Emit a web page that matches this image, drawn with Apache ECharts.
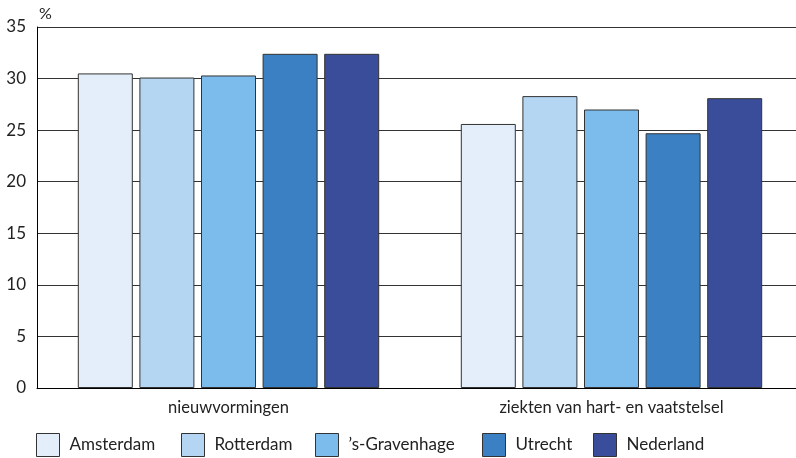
<!DOCTYPE html>
<html><head><meta charset="utf-8">
<script src="https://cdn.jsdelivr.net/npm/echarts@6/dist/echarts.min.js"></script>
<style>html,body{margin:0;padding:0;background:#fff}#c{width:796px;height:458px}</style>
</head><body><div id="c"></div>
<script>
const categories = ['nieuwvormingen', 'ziekten van hart- en vaatstelsel'];
const seriesNames = ['Amsterdam', 'Rotterdam', '\u2019s-Gravenhage', 'Utrecht', 'Nederland'];
const amsterdam = [30.5, 25.6];
const rotterdam = [30.1, 28.3];
const gravenhage = [30.3, 27.0];
const utrecht = [32.4, 24.7];
const nederland = [32.4, 28.1];
const colors = ['#E3EEFA', '#B5D6F3', '#7BBCEC', '#3A80C3', '#3A4D9A'];
const values = [amsterdam, rotterdam, gravenhage, utrecht, nederland];
const legendLefts = [36, 181, 315, 482, 593];
const font = 'Lato, "Noto Sans", sans-serif';
const chart = echarts.init(document.getElementById('c'));
chart.setOption({
  animation: false,
  textStyle: {fontFamily: font},
  grid: {left: 37, right: -7, top: 27, bottom: 70, containLabel: false, outerBoundsMode: 'none'},
  legend: seriesNames.map((n, i) => ({
    left: legendLefts[i], bottom: 1, padding: 0,
    itemWidth: 23, itemHeight: 23, icon: 'rect',
    textStyle: {fontSize: 17, color: '#222', fontFamily: font, padding: [0, 0, 0, 5]},
    itemStyle: {borderColor: '#333', borderWidth: 1},
    data: [n]
  })),
  xAxis: {
    type: 'category', data: categories,
    axisLine: {show: true, lineStyle: {color: '#000', width: 1}},
    axisTick: {show: false},
    axisLabel: {fontSize: 16.5, color: '#222', margin: 11, fontFamily: font}
  },
  yAxis: {
    type: 'value', min: 0, max: 35, interval: 5,
    name: '%', nameLocation: 'end', nameGap: 5,
    nameTextStyle: {fontSize: 16, color: '#222', align: 'left', padding: [0, 0, 0, 2]},
    axisLine: {show: true, lineStyle: {color: '#000', width: 1}},
    axisTick: {show: false},
    axisLabel: {fontSize: 17, color: '#222', margin: 11, fontFamily: font},
    splitLine: {show: true, lineStyle: {color: '#333', width: 1}}
  },
  series: seriesNames.map((n, i) => ({
    name: n, type: 'bar', data: values[i],
    barWidth: 55, barGap: '12%',
    itemStyle: {color: colors[i], borderColor: '#333', borderWidth: 1}
  }))
});
</script></body></html>
